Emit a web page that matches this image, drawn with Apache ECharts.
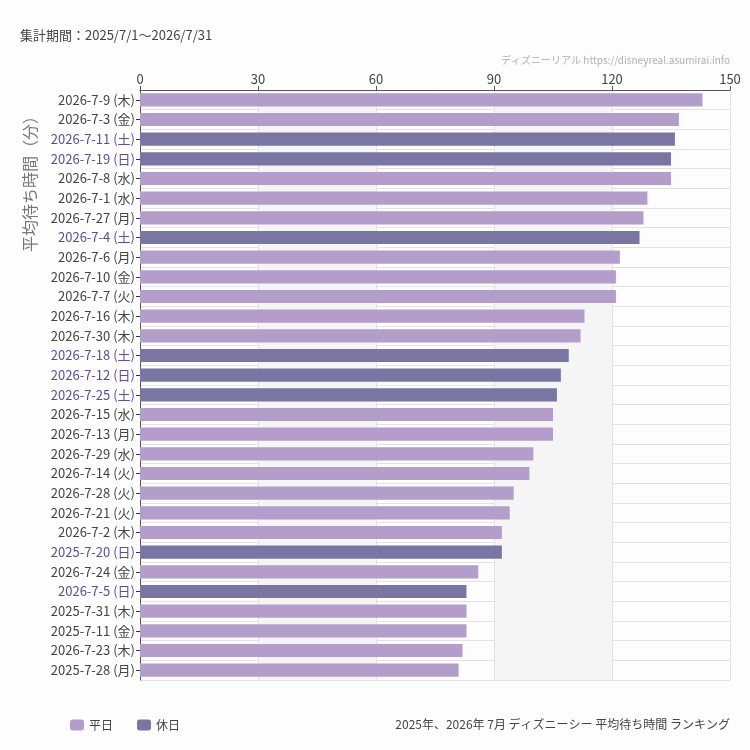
<!DOCTYPE html>
<html>
<head>
<meta charset="utf-8">
<script src="https://cdn.jsdelivr.net/npm/echarts@6/dist/echarts.min.js"></script>
<style>
  html, body { margin: 0; padding: 0; background: #fcfdfc; }
  #chart { width: 750px; height: 750px; }
</style>
</head>
<body>
<div id="chart"></div>
<script>
// ランキング順（上から）
const dates = [
  "2026-7-9", "2026-7-3", "2026-7-11", "2026-7-19", "2026-7-8",
  "2026-7-1", "2026-7-27", "2026-7-4", "2026-7-6", "2026-7-10",
  "2026-7-7", "2026-7-16", "2026-7-30", "2026-7-18", "2026-7-12",
  "2026-7-25", "2026-7-15", "2026-7-13", "2026-7-29", "2026-7-14",
  "2026-7-28", "2026-7-21", "2026-7-2", "2025-7-20", "2026-7-24",
  "2026-7-5", "2025-7-31", "2025-7-11", "2026-7-23", "2025-7-28"
];
const weekdays = [
  "木", "金", "土", "日", "水",
  "水", "月", "土", "月", "金",
  "火", "木", "木", "土", "日",
  "土", "水", "月", "水", "火",
  "火", "火", "木", "日", "金",
  "日", "木", "金", "木", "月"
];
const waitMinutes = [
  143, 137, 136, 135, 135,
  129, 128, 127, 122, 121,
  121, 113, 112, 109, 107,
  106, 105, 105, 100, 99,
  95, 94, 92, 92, 86,
  83, 83, 83, 82, 81
];
const holidayNames = ["土", "日"];
const xTicks = [0, 30, 60, 90, 120, 150];

const labels = dates.map((d, i) => d + " (" + weekdays[i] + ")");
const isHoliday = weekdays.map(w => holidayNames.includes(w));
const weekdayData = waitMinutes.map((v, i) => (isHoliday[i] ? "-" : v));
const holidayData = waitMinutes.map((v, i) => (isHoliday[i] ? v : "-"));

const jp = "Noto Sans CJK JP";
const chart = echarts.init(document.getElementById("chart"));

chart.setOption({
  backgroundColor: "#fcfdfc",
  animation: false,
  textStyle: { fontFamily: jp },
  title: [
    {
      text: "集計期間：2025/7/1〜2026/7/31",
      left: 15, top: 24,
      textStyle: { fontSize: 13, fontWeight: "normal", color: "#444", fontFamily: jp }
    },
    {
      text: "ディズニーリアル https://disneyreal.asumirai.info",
      right: 15, top: 50,
      textStyle: { fontSize: 10, fontWeight: "normal", color: "#b0b0b0", fontFamily: jp }
    },
    {
      text: "2025年、2026年 7月 ディズニーシー 平均待ち時間 ランキング",
      right: 15, top: 713,
      textStyle: { fontSize: 12, fontWeight: "normal", color: "#444", fontFamily: jp }
    }
  ],
  legend: {
    left: 65, top: 714,
    itemWidth: 14, itemHeight: 11, itemGap: 24,
    textStyle: { fontSize: 12, color: "#444", fontFamily: jp },
    data: ["平日", "休日"]
  },
  graphic: [{
    type: "text",
    x: 30, y: 180,
    rotation: Math.PI / 2,
    style: {
      text: "平均待ち時間（分）",
      fontSize: 16,
      fontFamily: jp,
      fill: "#777",
      align: "center",
      verticalAlign: "middle"
    }
  }],
  grid: { left: 140, right: 20, top: 90, bottom: 70 },
  xAxis: {
    type: "value",
    position: "top",
    min: xTicks[0],
    max: xTicks[xTicks.length - 1],
    interval: 30,
    axisLine: { show: true, lineStyle: { color: "#555" } },
    axisTick: { show: true, length: 4, lineStyle: { color: "#555" } },
    axisLabel: { fontSize: 13, color: "#444", margin: 4 },
    splitLine: { show: true, lineStyle: { color: "#e2e2e2" } },
    splitArea: { show: true, areaStyle: { color: ["rgba(0,0,0,0)", "#f4f5f4"] } }
  },
  yAxis: {
    type: "category",
    inverse: true,
    data: labels,
    axisLine: { show: true, lineStyle: { color: "#555" } },
    axisTick: { show: true, alignWithLabel: true, length: 4, lineStyle: { color: "#333" } },
    axisLabel: {
      fontSize: 13,
      margin: 5,
      formatter: (val, idx) => (isHoliday[idx] ? "{h|" + val + "}" : "{w|" + val + "}"),
      rich: {
        w: { fontSize: 13, color: "#444" },
        h: { fontSize: 13, color: "#5a4f98" }
      }
    },
    splitLine: { show: true, lineStyle: { color: "#e2e2e2" } }
  },
  series: [
    {
      name: "平日",
      type: "bar",
      stack: "all",
      barCategoryGap: "33%",
      itemStyle: { color: "#b39dcb" },
      data: weekdayData
    },
    {
      name: "休日",
      type: "bar",
      stack: "all",
      barCategoryGap: "33%",
      itemStyle: { color: "#7b75a3" },
      data: holidayData
    }
  ]
});
</script>
</body>
</html>
